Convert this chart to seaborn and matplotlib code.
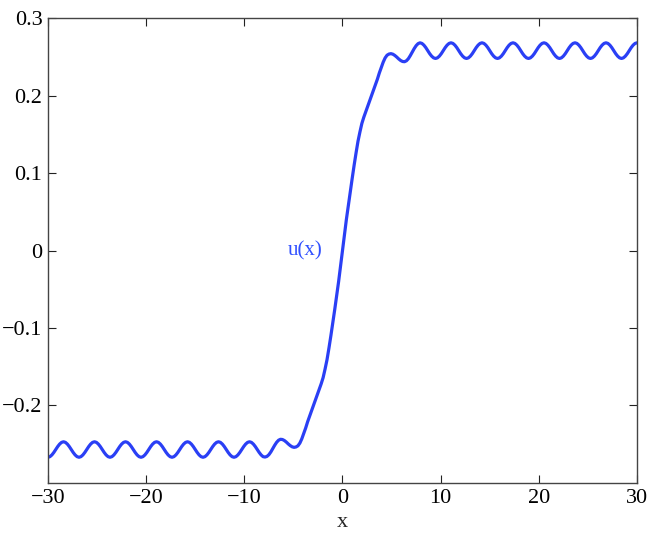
import numpy as np
import pandas as pd
import matplotlib
matplotlib.use("Agg")
import matplotlib.pyplot as plt
import seaborn as sns

# grid of x positions (1/16 of the tail oscillation period per step)
x_vals = np.linspace(-30, 30, 305)

# u(x), 16 values per row (one oscillation per row in the tails)
u_vals = [
    -0.2668, -0.2660, -0.2638, -0.2606, -0.2568, -0.2530, -0.2498, -0.2476,
    -0.2468, -0.2476, -0.2498, -0.2530, -0.2568, -0.2606, -0.2638, -0.2660,
    -0.2668, -0.2660, -0.2638, -0.2606, -0.2568, -0.2530, -0.2498, -0.2476,
    -0.2468, -0.2476, -0.2498, -0.2530, -0.2568, -0.2606, -0.2638, -0.2660,
    -0.2668, -0.2660, -0.2638, -0.2606, -0.2568, -0.2530, -0.2498, -0.2476,
    -0.2468, -0.2476, -0.2498, -0.2530, -0.2568, -0.2606, -0.2638, -0.2660,
    -0.2668, -0.2660, -0.2638, -0.2606, -0.2568, -0.2530, -0.2498, -0.2476,
    -0.2468, -0.2476, -0.2498, -0.2530, -0.2568, -0.2606, -0.2638, -0.2660,
    -0.2668, -0.2660, -0.2638, -0.2606, -0.2568, -0.2530, -0.2498, -0.2476,
    -0.2468, -0.2476, -0.2498, -0.2530, -0.2568, -0.2606, -0.2638, -0.2660,
    -0.2668, -0.2660, -0.2638, -0.2606, -0.2568, -0.2530, -0.2498, -0.2476,
    -0.2468, -0.2476, -0.2498, -0.2530, -0.2568, -0.2606, -0.2638, -0.2660,
    -0.2668, -0.2660, -0.2638, -0.2606, -0.2568, -0.2530, -0.2498, -0.2476,
    -0.2468, -0.2476, -0.2498, -0.2530, -0.2568, -0.2606, -0.2638, -0.2660,
    # kink, x from -7.895 to 7.895
    -0.2665, -0.2657, -0.2635, -0.2600, -0.2557, -0.2513, -0.2475, -0.2448,
    -0.2436, -0.2439, -0.2452, -0.2472, -0.2496, -0.2517, -0.2533, -0.2540,
    -0.2535, -0.2520, -0.2485, -0.2430, -0.2360, -0.2290, -0.2210, -0.2140,
    -0.2070, -0.2000, -0.1930, -0.1860, -0.1790, -0.1720, -0.1640, -0.1530,
    -0.1410, -0.1260, -0.1100, -0.0930, -0.0760, -0.0580, -0.0400, -0.0200,
    0.0000,
    0.0200, 0.0400, 0.0580, 0.0760, 0.0930, 0.1100, 0.1260, 0.1410,
    0.1530, 0.1640, 0.1720, 0.1790, 0.1860, 0.1930, 0.2000, 0.2070,
    0.2140, 0.2210, 0.2290, 0.2360, 0.2430, 0.2485, 0.2520, 0.2535,
    0.2540, 0.2533, 0.2517, 0.2496, 0.2472, 0.2452, 0.2439, 0.2436,
    0.2448, 0.2475, 0.2515, 0.2560, 0.2605, 0.2643, 0.2669, 0.2680,
    # right tail
    0.2672, 0.2650, 0.2618, 0.2579, 0.2540, 0.2508, 0.2486, 0.2478,
    0.2486, 0.2508, 0.2540, 0.2579, 0.2618, 0.2650, 0.2672, 0.2680,
    0.2672, 0.2650, 0.2618, 0.2579, 0.2540, 0.2508, 0.2486, 0.2478,
    0.2486, 0.2508, 0.2540, 0.2579, 0.2618, 0.2650, 0.2672, 0.2680,
    0.2672, 0.2650, 0.2618, 0.2579, 0.2540, 0.2508, 0.2486, 0.2478,
    0.2486, 0.2508, 0.2540, 0.2579, 0.2618, 0.2650, 0.2672, 0.2680,
    0.2672, 0.2650, 0.2618, 0.2579, 0.2540, 0.2508, 0.2486, 0.2478,
    0.2486, 0.2508, 0.2540, 0.2579, 0.2618, 0.2650, 0.2672, 0.2680,
    0.2672, 0.2650, 0.2618, 0.2579, 0.2540, 0.2508, 0.2486, 0.2478,
    0.2486, 0.2508, 0.2540, 0.2579, 0.2618, 0.2650, 0.2672, 0.2680,
    0.2672, 0.2650, 0.2618, 0.2579, 0.2540, 0.2508, 0.2486, 0.2478,
    0.2486, 0.2508, 0.2540, 0.2579, 0.2618, 0.2650, 0.2672, 0.2680,
    0.2672, 0.2650, 0.2618, 0.2579, 0.2540, 0.2508, 0.2486, 0.2478,
    0.2486, 0.2508, 0.2540, 0.2579, 0.2618, 0.2650, 0.2672, 0.2680,
]

x_ticks = [-30, -20, -10, 0, 10, 20, 30]
x_tick_labels = ["\u221230", "\u221220", "\u221210", "0", "10", "20", "30"]
y_ticks = [-0.2, -0.1, 0, 0.1, 0.2, 0.3]
y_tick_labels = ["\u22120.2", "\u22120.1", "0", "0.1", "0.2", "0.3"]

df = pd.DataFrame({"x": x_vals, "u": u_vals})

sns.set_style("ticks")
plt.rcParams["font.family"] = ["Liberation Serif", "DejaVu Serif"]

fig = plt.figure(figsize=(6.54, 5.39), dpi=100)
ax = fig.add_axes([0.0734, 0.1039, 0.9006, 0.8627])

sns.lineplot(data=df, x="x", y="u", ax=ax, color="#2a3ff5", linewidth=2.3)

ax.set_xlim(-30, 30)
ax.set_ylim(-0.3, 0.3)
ax.set_xticks(x_ticks)
ax.set_xticklabels(x_tick_labels)
ax.set_yticks(y_ticks)
ax.set_yticklabels(y_tick_labels)
ax.tick_params(direction="in", length=6, width=0.8, labelsize=16, pad=4,
               top=True, right=True, colors="#222222", labelcolor="black")
ax.set_xlabel("x", fontsize=16, labelpad=4)
ax.set_ylabel("")

for side in ["left", "right", "top", "bottom"]:
    ax.spines[side].set_visible(True)
    ax.spines[side].set_color("#444444")
    ax.spines[side].set_linewidth(1.0)

ax.text(-3.8, 0.0, "u(x)", color="#3050ff", fontsize=15, ha="center", va="center")

fig.savefig("out.png", dpi=100)
